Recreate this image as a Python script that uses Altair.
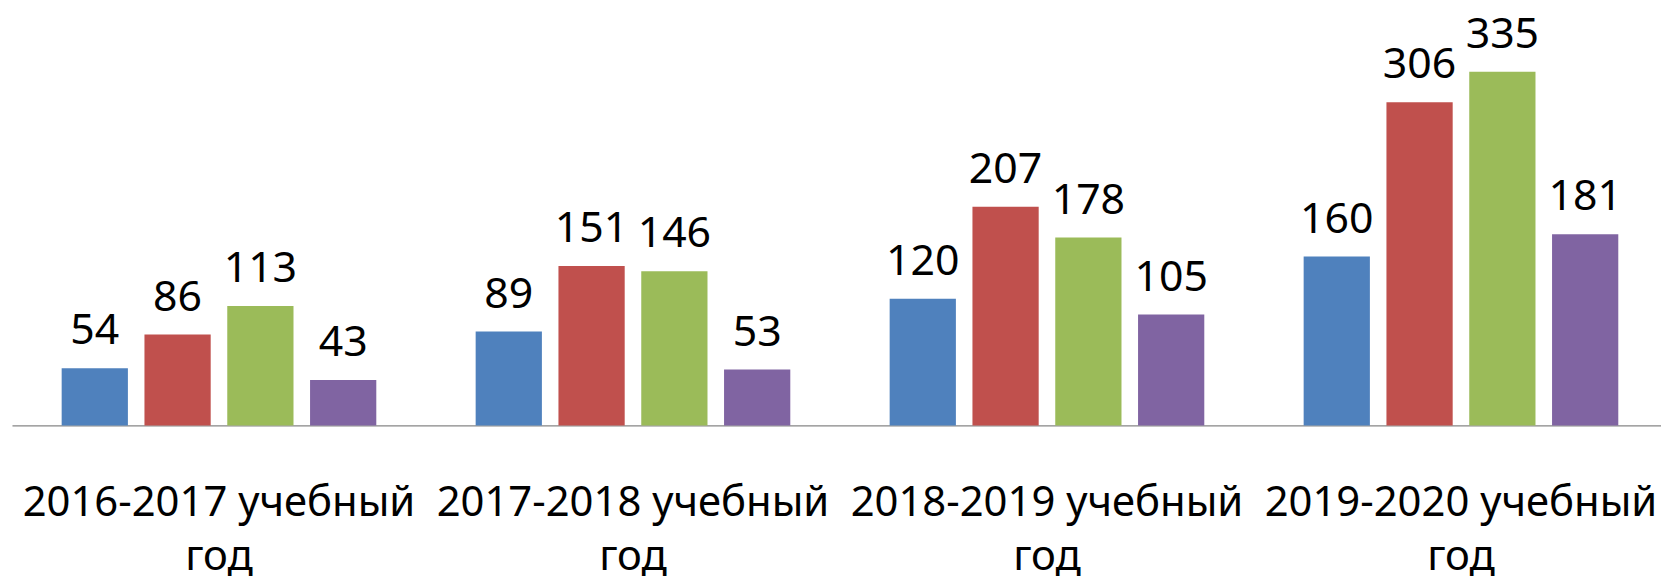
import altair as alt
import pandas as pd

years = ["2016-2017 учебный год", "2017-2018 учебный год", "2018-2019 учебный год", "2019-2020 учебный год"]
series = ["Ряд 1", "Ряд 2", "Ряд 3", "Ряд 4"]
values = {
    "Ряд 1": [54, 89, 120, 160],
    "Ряд 2": [86, 151, 207, 306],
    "Ряд 3": [113, 146, 178, 335],
    "Ряд 4": [43, 53, 105, 181],
}
colors = ["#4F81BD", "#C0504D", "#9BBB59", "#8064A2"]

rows = []
for s in series:
    for y, v in zip(years, values[s]):
        rows.append({"year": y, "series": s, "value": v})
df = pd.DataFrame(rows)

FONT = "Noto Sans"

x = alt.X(
    "year:N",
    sort=years,
    scale=alt.Scale(range=[0, 1664], paddingInner=0, paddingOuter=0),
    axis=alt.Axis(
        title=None,
        labelAngle=0,
        ticks=False,
        grid=False,
        domainColor="#868686",
        domainWidth=1.5,
        labelFont=FONT,
        labelFontSize=42,
        labelColor="#000000",
        labelPadding=58,
        labelLineHeight=54,
        labelLimit=0,
        labelBaseline="top",
        labelExpr="[replace(datum.label, ' год', ''), 'год']",
    ),
)
xo = alt.XOffset(
    "series:N",
    sort=series,
    scale=alt.Scale(paddingInner=0.2, paddingOuter=0.6),
)
y = alt.Y(
    "value:Q",
    scale=alt.Scale(domain=[0, 394], nice=False),
    axis=None,
)

base = alt.Chart(df)
bars = base.mark_bar().encode(
    x=x,
    xOffset=xo,
    y=y,
    color=alt.Color("series:N", sort=series, scale=alt.Scale(domain=series, range=colors), legend=None),
)
labels = base.mark_text(
    font=FONT, fontSize=43, color="#000000", baseline="alphabetic", dy=-24
).encode(
    x=x,
    xOffset=xo,
    y=y,
    text="value:Q",
)

chart = (
    alt.layer(bars, labels)
    .properties(
        width=1657,
        height=418,
        padding={"left": 4, "top": 0, "right": 0, "bottom": 160},
        autosize=alt.AutoSizeParams(type="none"),
    )
    .configure_view(stroke=None)
)
chart.save("out.html", embed_options={"renderer": "svg", "actions": False})
